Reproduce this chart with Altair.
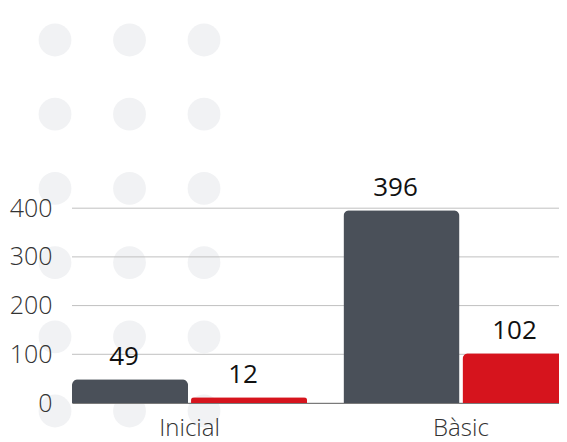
import altair as alt
import pandas as pd

# --- data ---
categories = ["Inicial", "Bàsic"]
series = ["Sèrie 1", "Sèrie 2"]
values_s1 = [49, 396]
values_s2 = [12, 102]
y_ticks = [0, 100, 200, 300, 400]
colors = ["#4a5059", "#d6141d"]

# decorative background dot grid (3 columns x 6 rows)
dot_cols = [0, 1, 2]
dot_rows = [0, 1, 2, 3, 4, 5]

rows = []
for i, c in enumerate(categories):
    rows.append({"categoria": c, "serie": series[0], "valor": values_s1[i]})
    rows.append({"categoria": c, "serie": series[1], "valor": values_s2[i]})
df = pd.DataFrame(rows)
dots = pd.DataFrame([{"col": c, "row": r} for c in dot_cols for r in dot_rows])
grid = pd.DataFrame({"v": y_ticks})

W, H = 487, 395
FONT = "Open Sans"

xscale = alt.Scale(domain=categories, range=[0, 506.5], paddingInner=0.134, paddingOuter=0)
yscale = alt.Scale(domain=[0, 811], nice=False)
xoff = alt.XOffset("serie:N", scale=alt.Scale(domain=series, paddingInner=0.025, paddingOuter=0))

dot_layer = alt.Chart(dots).mark_circle(size=1075, color="#f1f2f4", opacity=1).encode(
    x=alt.X("col:Q", scale=alt.Scale(domain=[0.228, 6.765], nice=False, zero=False), axis=None),
    y=alt.Y("row:Q", scale=alt.Scale(domain=[-0.431, 4.892], nice=False, zero=False, reverse=True), axis=None),
)

grid_layer = alt.Chart(grid).mark_rule(color="#c0c0c0", strokeWidth=1).encode(
    y=alt.Y("v:Q", scale=yscale, title=None,
            axis=alt.Axis(values=y_ticks, labelFont=FONT, labelFontSize=25, labelFontWeight=300,
                          labelColor="#333333", ticks=False, tickSize=0, domain=False, grid=False,
                          labelPadding=20, zindex=1)),
)

bars = alt.Chart(df).mark_bar(cornerRadiusTopLeft=6, cornerRadiusTopRight=6).encode(
    x=alt.X("categoria:N", scale=xscale, sort=categories, title=None,
            axis=alt.Axis(labelAngle=0, labelFont=FONT, labelFontSize=24, labelFontWeight=300,
                          labelColor="#333333", ticks=False, tickSize=0, labelPadding=13,
                          domain=True, domainColor="#7a7a7a", domainWidth=1, grid=False, zindex=1)),
    y=alt.Y("valor:Q", scale=yscale, axis=None),
    xOffset=xoff,
    color=alt.Color("serie:N", scale=alt.Scale(domain=series, range=colors), legend=None),
)

labels = alt.Chart(df).mark_text(font=FONT, fontSize=26, color="#111111", baseline="alphabetic",
                                 align="center", dx=-6, dy=-14).encode(
    x=alt.X("categoria:N", scale=xscale, sort=categories, axis=None),
    y=alt.Y("valor:Q", scale=yscale, axis=None),
    xOffset=xoff,
    text=alt.Text("valor:Q"),
)

chart = alt.layer(dot_layer, grid_layer, bars, labels).resolve_scale(
    x="independent", y="independent"
).properties(
    width=W, height=H,
    autosize=alt.AutoSizeParams(type="none"),
    padding={"left": 64, "top": 0, "right": 0, "bottom": 50},
    background="white",
).configure_view(stroke=None)

chart.save("out.html", embed_options={"renderer": "svg", "actions": False})
